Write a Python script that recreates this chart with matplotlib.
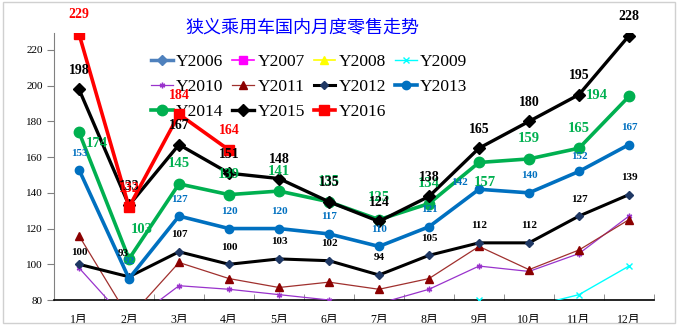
import numpy as np
import matplotlib
matplotlib.use('Agg')
import matplotlib.pyplot as plt
from matplotlib.patches import Rectangle

plt.rcParams['font.family'] = ['Liberation Serif', 'Noto Sans CJK SC', 'DejaVu Sans']

# 月份
months = ['1月', '2月', '3月', '4月', '5月', '6月', '7月', '8月', '9月', '10月', '11月', '12月']

# 各年月度零售量(万辆), 低于80的部分在图中看不到, 为估计值
y2006 = [30, 23, 30, 28, 27, 26, 24, 25, 29, 28, 31, 37]
y2007 = [40, 30, 38, 36, 35, 33, 30, 32, 38, 39, 42, 48]
y2008 = [50, 37, 50, 48, 46, 42, 36, 35, 40, 42, 43, 52]
y2009 = [55, 52, 62, 64, 66, 70, 70, 73, 80, 76, 83, 99]
y2010 = [98, 67, 88, 86, 83, 80, 78, 86, 99, 96, 106, 127]
y2011 = [116, 70, 101, 92, 87, 90, 86, 92, 110, 97, 108, 125]
y2012 = [100, 93, 107, 100, 103, 102, 94, 105, 112, 112, 127, 139]
y2013 = [153, 92, 127, 120, 120, 117, 110, 121, 142, 140, 152, 167]
y2014 = [174, 103, 145, 139, 141, 135, 125, 134, 157, 159, 165, 194]
y2015 = [198, 133, 167, 151, 148, 135, 124, 138, 165, 180, 195, 228]
y2016 = [229, 132, 184, 164]

x = np.arange(len(months))

fig = plt.figure(figsize=(6.8, 3.27), dpi=100)
ax = fig.add_axes([54/680, 27/327, 600/680, 267/327])

# 线型设置
estilos = {
    'Y2006': dict(color='#4F81BD', lw=2.5, marker='D', ms=5, mfc='#4F81BD', mec='#4F81BD'),
    'Y2007': dict(color='#FF00FF', lw=1.2, marker='s', ms=6, mfc='#FF00FF', mec='#FF00FF'),
    'Y2008': dict(color='#FFFF00', lw=1.2, marker='^', ms=6, mfc='#FFFF00', mec='#FFFF00'),
    'Y2009': dict(color='#00FFFF', lw=1.0, marker='x', ms=4, mfc='#00FFFF', mec='#00FFFF'),
    'Y2010': dict(color='#9933CC', lw=0.9, marker=(6, 2, 0), ms=4, mfc='#9933CC', mec='#9933CC'),
    'Y2011': dict(color='#A0302E', lw=0.9, marker='^', ms=6, mfc='#8B0000', mec='#8B0000'),
    'Y2012': dict(color='black', lw=2.2, marker='D', ms=4.5, mfc='#1F3864', mec='#1F3864'),
    'Y2013': dict(color='#0070C0', lw=2.6, marker='o', ms=6, mfc='#0070C0', mec='#0070C0'),
    'Y2014': dict(color='#00B050', lw=2.6, marker='o', ms=7.5, mfc='#00B050', mec='#00B050'),
    'Y2015': dict(color='black', lw=2.4, marker='D', ms=6, mfc='black', mec='black'),
    'Y2016': dict(color='#FF0000', lw=2.6, marker='s', ms=7.5, mfc='#FF0000', mec='#FF0000'),
}

series = [('Y2006', y2006), ('Y2007', y2007), ('Y2008', y2008), ('Y2009', y2009),
          ('Y2010', y2010), ('Y2011', y2011), ('Y2012', y2012), ('Y2013', y2013),
          ('Y2014', y2014), ('Y2015', y2015), ('Y2016', y2016)]

linhas = {}
for i, (nome, vals) in enumerate(series):
    l, = ax.plot(x[:len(vals)], vals, label=nome, zorder=2 + i, **estilos[nome])
    linhas[nome] = l

# 数据标签: 颜色, 字号, 默认偏移, 个别偏移 (像素, 向下为正)
rotulos = {
    'Y2012': ('black', 8, (0, -17), {0: (0, -12), 1: (-6, -23)}),
    'Y2013': ('#0070C0', 8, (0, -17), {0: (0, -16), 8: (-19, -7), 10: (0, -15)}),
    'Y2014': ('#00B050', 10.5, (0, -20), {0: (18, 11), 1: (13, -29), 6: (0, -22),
                                         8: (6, 20), 11: (-32, -1)}),
    'Y2015': ('black', 10, (0, -19), {}),
    'Y2016': ('#FF0000', 10, (0, -19), {}),
}
dados = dict(series)
for nome, (cor, tam, padrao, extra) in rotulos.items():
    vals = dados[nome]
    for i, v in enumerate(vals):
        dx, dy = extra.get(i, padrao)
        ax.annotate(str(v), (x[i], v), xytext=(dx, -dy), textcoords='offset pixels',
                    ha='center', va='center', color=cor, fontsize=tam,
                    fontweight='bold', zorder=20)

ax.set_xlim(-0.5, 11.5)
ax.set_ylim(80, 229.5)
ax.set_yticks(np.arange(80, 221, 20))
ax.set_xticks(x)
ax.set_xticklabels(months, fontsize=8.5)
ax.set_xticks(np.arange(-0.5, 12, 1), minor=True)
ax.tick_params(axis='x', which='major', length=0, pad=10)
ax.tick_params(axis='x', which='minor', direction='in', length=4, color='#808080')
ax.tick_params(axis='y', direction='out', length=5, labelsize=8, color='#808080', pad=3)

for s in ['top', 'right']:
    ax.spines[s].set_visible(False)
ax.spines['left'].set_color('#808080')
ax.spines['bottom'].set_color('black')
ax.spines['bottom'].set_linewidth(1.2)

# 图例 (按行排列)
ordem = ['Y2006', 'Y2010', 'Y2014', 'Y2007', 'Y2011', 'Y2015',
         'Y2008', 'Y2012', 'Y2016', 'Y2009', 'Y2013']
ax.legend([linhas[n] for n in ordem], ordem, ncol=4, loc='upper left',
          bbox_to_anchor=(151/680, 1 - 54/327), bbox_transform=fig.transFigure,
          frameon=False, fontsize=12.5, handlelength=1.25, handletextpad=0.2,
          columnspacing=0.5, labelspacing=0.5, borderpad=0, borderaxespad=0,
          numpoints=1)

fig.text(302/680, 1 - 28/327, '狭义乘用车国内月度零售走势', color='#0000FF',
         fontsize=13, ha='center', va='center', family=['Noto Sans CJK SC', 'DejaVu Sans'])

fig.patches.append(Rectangle((3/680, 4/327), 672/680, 321/327, transform=fig.transFigure,
                             fill=False, edgecolor='#D0D0D0', lw=1))

fig.savefig('out.png', dpi=100)
